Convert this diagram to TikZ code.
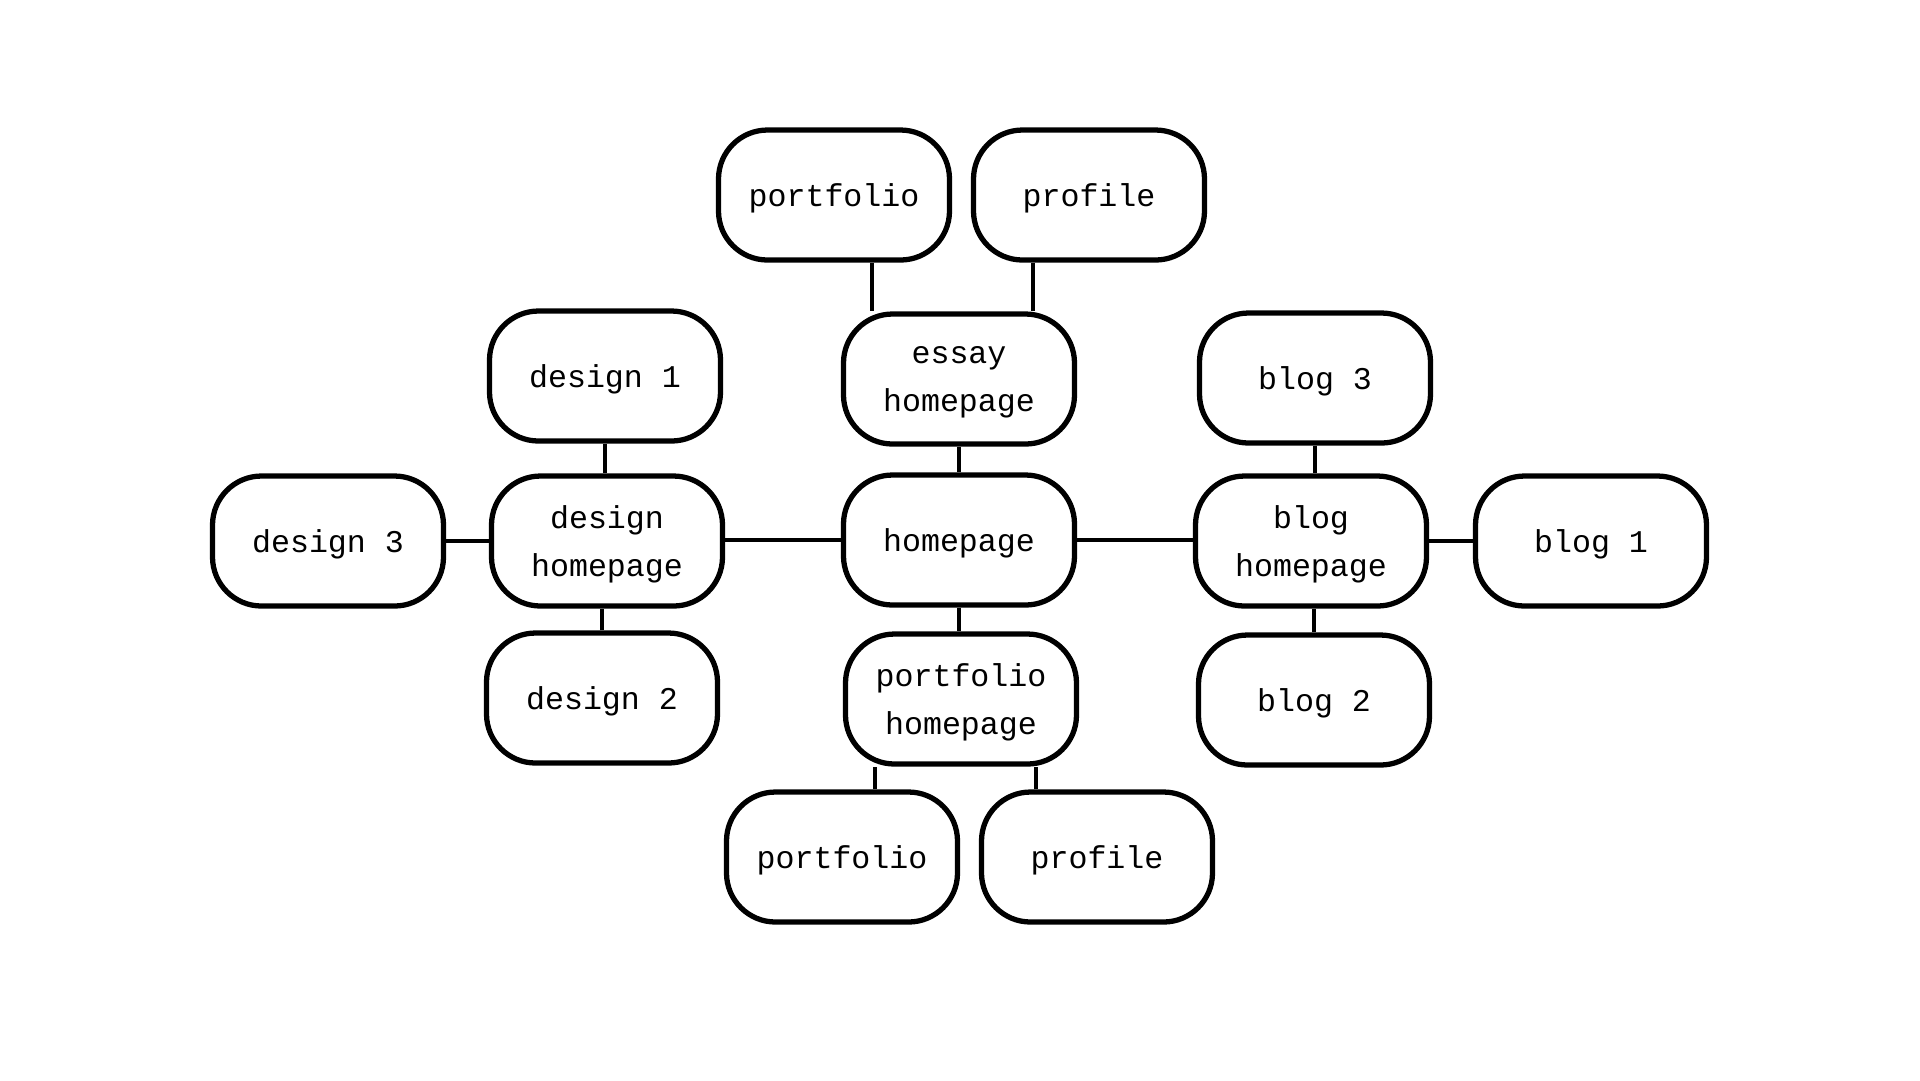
\documentclass[tikz,border=0pt]{standalone}
\usepackage{fontspec}
\setmonofont{Liberation Mono}
\usetikzlibrary{calc, positioning}

\begin{document}
\begin{tikzpicture}[x=0.1mm,y=-0.1mm,
  page/.style={draw=black,line width=1.5pt,fill=white,rounded corners=4.9mm,
    minimum width=23.1mm,minimum height=13mm,align=center,inner sep=2pt,
    text depth=0pt,font=\ttfamily\fontsize{9}{13.8}\selectfont},
  link/.style={black,line width=0.9pt}]
\useasboundingbox (0,0) rectangle (1920,1080);

\node[page] (home) at (959,540) {homepage};
\node[page] (essay) at (959,379) {essay\\homepage};
\node[page] (port) at (961,699) {portfolio\\homepage};
\node[page] (design) at (607,541) {design\\homepage};
\node[page] (blog) at (1311,541) {blog\\homepage};

\node[page] (essayA) at (834,195) {portfolio};
\node[page] (essayB) at (1089,195) {profile};
\node[page] (portA) at (842,857) {portfolio};
\node[page] (portB) at (1097,857) {profile};

\node[page] (design1) at (605,376) {design 1};
\node[page] (design2) at (602,698) {design 2};
\node[page] (design3) at (328,541) {design 3};

\node[page] (blog1) at (1591,541) {blog 1};
\node[page] (blog2) at (1314,700) {blog 2};
\node[page] (blog3) at (1315,378) {blog 3};

% hub
\draw[link] (home.north) -- (home.north |- essay.south);
\draw[link] (home.south) -- (home.south |- port.north);
\draw[link] (home.west) -- (home.west -| design.east);
\draw[link] (home.east) -- (home.east -| blog.west);

% essay and portfolio branches
\draw[link] ([xshift=3.8mm]essayA.south) -- ([xshift=3.8mm]essayA.south |- essay.north);
\draw[link] ([xshift=-5.6mm]essayB.south) -- ([xshift=-5.6mm]essayB.south |- essay.north);
\draw[link] ([xshift=3.3mm]portA.north) -- ([xshift=3.3mm]portA.north |- port.south);
\draw[link] ([xshift=-6.1mm]portB.north) -- ([xshift=-6.1mm]portB.north |- port.south);

% design branch
\draw[link] (design1.south) -- (design1.south |- design.north);
\draw[link] (design2.north) -- (design2.north |- design.south);
\draw[link] (design3.east) -- (design3.east -| design.west);

% blog branch
\draw[link] (blog3.south) -- (blog3.south |- blog.north);
\draw[link] (blog2.north) -- (blog2.north |- blog.south);
\draw[link] (blog1.west) -- (blog1.west -| blog.east);
\end{tikzpicture}
\end{document}
